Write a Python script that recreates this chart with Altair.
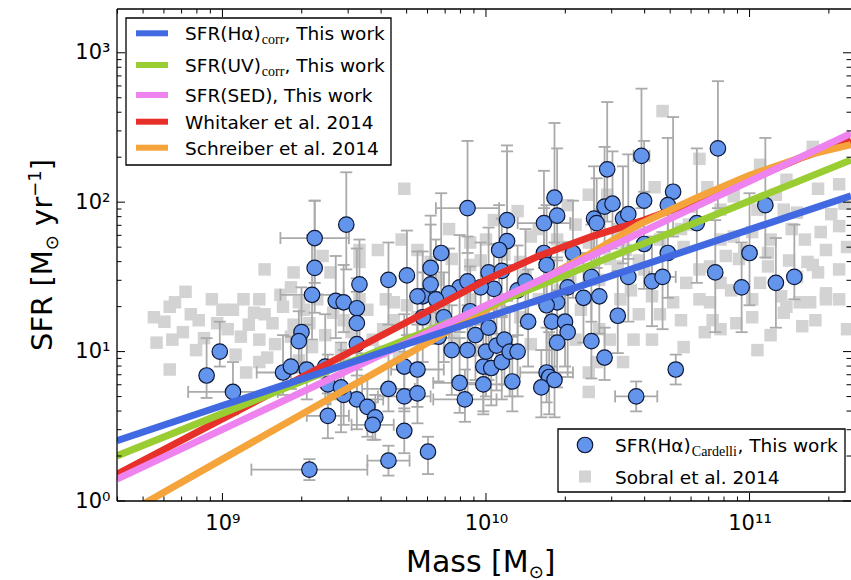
import altair as alt
import pandas as pd
import numpy as np

# ---------------- data (log10 values) ----------------
# SFR(Halpha)_Cardelli, This work  (circles)
bl_logm = [8.94, 8.99, 9.04, 9.33, 9.30, 9.29, 9.23, 9.26, 9.32, 9.39, 9.40, 9.40, 9.43, 9.46, 9.51, 9.51,
           9.51, 9.51, 9.55, 9.58, 9.57, 9.46, 9.45, 9.63, 9.63, 9.69, 9.69, 9.69, 9.74, 9.74, 9.78, 9.76,
           9.76, 9.34, 9.35, 9.47, 9.35, 9.52, 9.63, 9.70, 9.74, 9.93, 9.83, 9.79, 9.79, 10.08, 10.08, 10.05,
           10.22, 10.26, 10.27, 10.22, 10.23, 10.46, 10.59, 10.45, 10.48, 10.60, 10.41, 10.42, 10.52, 10.54,
           10.60, 10.01, 10.06, 10.03, 9.98, 9.90, 9.93, 9.86, 9.81, 10.12, 10.15, 10.33, 10.31, 10.37, 10.43,
           10.54, 10.63, 10.27, 10.23, 10.40, 10.88, 10.71, 10.69, 11.06, 10.80, 10.69, 11.00, 10.67, 10.87,
           10.97, 11.10, 11.17, 9.87, 9.93, 9.96, 10.01, 9.99, 10.00, 10.02, 10.04, 10.07, 10.06, 10.09, 10.12,
           9.90, 9.92, 9.99, 10.10, 10.16, 10.25, 10.30, 10.31, 10.27, 10.23, 10.24, 10.26, 10.21, 10.40, 10.45,
           10.50, 10.57, 9.82, 10.72, 9.84, 9.94]
bl_logs = [0.84, 1.00, 0.73, 0.21, 1.13, 1.07, 0.86, 0.90, 0.88, 0.90, 0.78, 0.57, 1.34, 1.33, 1.29, 1.19,
           1.05, 0.68, 0.63, 0.56, 0.51, 0.71, 0.76, 0.75, 0.27, 0.70, 0.47, 0.90, 0.72, 0.88, 0.33, 1.37,
           1.23, 1.38, 1.76, 1.85, 1.56, 1.45, 1.48, 1.51, 1.37, 1.96, 1.66, 1.56, 1.45, 1.88, 1.74, 1.68,
           1.86, 2.03, 1.91, 1.66, 1.58, 2.22, 2.31, 1.97, 1.99, 2.01, 1.89, 1.86, 1.89, 1.92,
           1.72, 1.53, 1.54, 1.42, 1.43, 1.43, 1.47, 1.39, 1.35, 1.41, 1.47, 1.66, 1.43, 1.36, 1.37,
           1.50, 1.47, 1.33, 1.31, 1.50, 2.36, 2.07, 1.98, 1.98, 1.86, 1.66, 1.66, 1.50, 1.53,
           1.43, 1.46, 1.50, 1.01, 1.01, 1.11, 1.16, 0.90, 1.00, 0.89, 1.04, 1.08, 0.93, 1.00, 1.00,
           0.79, 0.68, 0.78, 0.80, 1.20, 1.20, 1.20, 1.13, 1.06, 0.86, 0.83, 0.81, 0.76, 1.07, 0.96,
           1.24, 0.70, 1.10, 0.88, 1.23, 1.27]
# error bars in dex
bl_up = [0.25, 0.20, 0.20, 0.07, 0.30, 0.20, 0.25, 0.20, 0.30, 0.35, 0.20, 0.15, 0.30, 0.25, 0.40, 0.30,
         0.35, 0.20, 0.20, 0.15, 0.15, 0.30, 0.30, 0.25, 0.10, 0.30, 0.15, 0.35, 0.30, 0.30, 0.10, 0.30,
         0.30, 0.40, 0.25, 0.35, 0.45, 0.30, 0.25, 0.30, 0.30, 0.45, 0.40, 0.35, 0.40, 0.50, 0.60, 0.30,
         0.35, 0.50, 0.45, 0.30, 0.40, 0.45, 0.45, 0.40, 0.35, 0.40, 0.35, 0.30, 0.35, 0.40,
         0.35, 0.30, 0.35, 0.30, 0.30, 0.35, 0.30, 0.30, 0.40, 0.30, 0.35, 0.35, 0.30, 0.30, 0.30,
         0.35, 0.30, 0.30, 0.30, 0.35, 0.45, 0.50, 0.45, 0.45, 0.50, 0.35, 0.40, 0.30, 0.35,
         0.30, 0.30, 0.35, 0.30, 0.30, 0.35, 0.30, 0.30, 0.30, 0.30, 0.30, 0.30, 0.30, 0.30, 0.30,
         0.30, 0.20, 0.25, 0.30, 0.35, 0.35, 0.30, 0.35, 0.35, 0.30, 0.30, 0.30, 0.25, 0.30, 0.20,
         0.30, 0.10, 0.30, 0.10, 0.30, 0.30]
bl_dn = [0.15, 0.10, 0.15, 0.07, 0.20, 0.15, 0.15, 0.15, 0.20, 0.25, 0.20, 0.15, 0.25, 0.20, 0.30, 0.35,
         0.40, 0.20, 0.20, 0.15, 0.10, 0.20, 0.30, 0.15, 0.10, 0.20, 0.15, 0.30, 0.20, 0.25, 0.15, 0.30,
         0.30, 0.30, 0.30, 0.30, 0.30, 0.40, 0.30, 0.40, 0.30, 0.30, 0.30, 0.30, 0.35, 0.30, 0.40, 0.30,
         0.30, 0.30, 0.30, 0.30, 0.30, 0.35, 0.35, 0.30, 0.30, 0.30, 0.30, 0.30, 0.30, 0.30,
         0.30, 0.30, 0.30, 0.30, 0.25, 0.30, 0.30, 0.30, 0.30, 0.30, 0.30, 0.30, 0.30, 0.30, 0.25,
         0.30, 0.30, 0.30, 0.30, 0.30, 0.40, 0.30, 0.30, 0.35, 0.40, 0.30, 0.35, 0.35, 0.40,
         0.30, 0.30, 0.15, 0.30, 0.30, 0.30, 0.35, 0.30, 0.30, 0.25, 0.30, 0.30, 0.25, 0.30, 0.30,
         0.20, 0.15, 0.20, 0.20, 0.30, 0.30, 0.30, 0.30, 0.30, 0.20, 0.25, 0.25, 0.20, 0.25, 0.15,
         0.25, 0.10, 0.30, 0.10, 0.30, 0.30]
bl_xe = [0.00, 0.00, 0.17, 0.22, 0.00, 0.00, 0.10, 0.00, 0.08, 0.00, 0.00, 0.08, 0.00, 0.00, 0.00, 0.00,
         0.00, 0.10, 0.00, 0.00, 0.08, 0.00, 0.00, 0.10, 0.08, 0.10, 0.00, 0.00, 0.00, 0.10, 0.00, 0.00,
         0.00, 0.12, 0.13, 0.00, 0.00, 0.00, 0.00, 0.00, 0.00, 0.12, 0.00, 0.00, 0.00, 0.00, 0.00, 0.00,
         0.10, 0.00, 0.00, 0.00, 0.00, 0.00, 0.03, 0.00, 0.00, 0.00, 0.00, 0.00, 0.00, 0.00,
         0.00, 0.00, 0.00, 0.00, 0.00, 0.00, 0.00, 0.00, 0.00, 0.00, 0.00, 0.00, 0.00, 0.00, 0.00,
         0.00, 0.00, 0.00, 0.00, 0.00, 0.00, 0.00, 0.00, 0.00, 0.00, 0.00, 0.00, 0.05, 0.00,
         0.00, 0.00, 0.00, 0.00, 0.00, 0.00, 0.00, 0.00, 0.00, 0.00, 0.00, 0.00, 0.00, 0.00, 0.00,
         0.10, 0.12, 0.10, 0.00, 0.00, 0.00, 0.00, 0.00, 0.00, 0.10, 0.00, 0.00, 0.00, 0.00, 0.00,
         0.00, 0.08, 0.00, 0.00, 0.00, 0.00]

# Sobral et al. 2014 (squares)
sq_logm = [8.74, 8.80, 8.81, 8.80, 8.90, 8.86, 8.91, 8.96, 8.98, 9.04, 9.07, 9.12, 9.14, 9.09, 9.17, 9.19,
           9.23, 9.26, 9.29, 9.33, 9.34, 9.37, 9.42, 9.45, 9.49, 9.55, 9.61, 9.65, 9.67, 9.71, 9.74, 8.75,
           9.16, 9.26, 9.27, 9.52, 9.59, 9.69, 9.79, 8.82, 9.14, 9.52, 9.68, 9.38, 9.41,
           10.64, 10.46, 10.39, 10.31, 10.12, 10.03, 9.94, 10.17, 10.27, 10.31, 10.39, 10.50, 10.57, 10.00,
           9.87, 9.74, 10.13, 10.50, 10.60,
           10.67, 11.24, 11.14, 11.26, 11.34, 11.27, 11.34, 11.16, 11.29, 11.24, 11.37, 11.13, 11.18, 10.94,
           10.84, 10.89, 11.01, 11.07, 10.96, 10.85, 10.75, 10.78, 11.03, 10.94, 11.07, 10.91, 10.89, 11.04,
           11.01, 10.81, 10.76, 10.74, 10.89, 10.63, 10.71, 11.19, 11.34, 11.12, 11.29, 11.18, 11.26, 11.22,
           10.39, 10.39, 10.42, 10.52, 10.63, 10.75, 11.03, 10.83, 10.95, 11.20, 11.37, 11.29, 11.14, 11.01,
           10.86, 10.85, 11.23, 11.13,
           9.79, 9.84, 9.94, 10.05, 10.13, 10.20, 10.28, 10.36, 10.43, 10.51, 10.58, 9.88, 9.98, 10.17,
           10.34, 10.47, 10.56, 9.82, 9.94, 10.15, 10.24, 10.47, 10.55, 10.32, 10.43,
           8.78, 8.85, 8.88, 8.93, 9.00, 9.02, 9.08, 9.10, 9.16, 9.20, 9.22, 9.27, 9.31, 9.36, 9.39, 9.46,
           9.52, 9.57, 9.62, 9.65, 9.70, 9.75, 9.05, 9.14, 9.29, 9.46, 9.60,
           9.86, 9.98, 10.07, 10.20, 10.34, 10.43, 10.53, 10.66, 10.77, 10.81, 10.93, 10.98, 11.08, 11.15,
           11.21, 11.31, 11.36, 11.10, 11.04, 10.81, 10.89, 11.08, 11.25, 11.34, 10.74, 10.66, 10.58, 10.28,
           10.01, 9.92]
sq_logs = [1.23, 1.30, 1.08, 0.88, 1.01, 1.40, 1.21, 1.35, 1.19, 1.28, 1.10, 1.26, 1.08, 0.86, 0.96, 1.19,
           1.30, 1.10, 1.33, 1.19, 1.03, 0.86, 1.26, 1.01, 1.13, 1.28, 1.15, 1.33, 0.96, 1.08, 1.23, 1.06,
           1.55, 1.43, 1.53, 1.68, 1.68, 2.09, 1.60, 1.33, 1.35, 1.60, 1.75, 1.64, 1.53,
           2.10, 2.05, 2.05, 1.98, 1.94, 1.88, 1.73, 1.77, 1.75, 1.70, 1.73, 1.82, 1.84, 1.75,
           1.62, 1.68, 1.60, 1.57, 1.55,
           2.61, 2.37, 2.15, 2.09, 2.12, 1.80, 1.84, 1.82, 1.68, 1.58, 1.70, 1.95, 1.93, 2.04,
           2.10, 1.75, 1.80, 1.66, 1.62, 1.57, 1.70, 1.97, 1.95, 1.77, 1.57, 1.64, 1.46, 1.46,
           1.35, 1.55, 1.46, 1.82, 1.95, 1.37, 1.33, 1.33, 1.55, 1.37, 1.39, 1.50, 1.53, 1.60,
           0.86, 0.73, 0.93, 0.93, 1.08, 1.03, 1.01, 1.13, 1.19, 1.17, 1.15, 1.35, 1.30, 1.23,
           1.21, 1.33, 1.33, 1.26,
           1.21, 1.31, 1.35, 1.28, 1.23, 1.35, 1.41, 1.28, 1.15, 1.35, 1.25, 1.08, 1.01, 1.05,
           1.08, 1.08, 1.08, 1.48, 1.58, 1.51, 1.58, 1.62, 1.41, 1.48, 1.48,
           1.20, 1.13, 1.25, 1.09, 1.28, 1.15, 1.35, 1.18, 1.25, 1.05, 1.38, 1.18, 1.28, 1.35, 1.11, 1.21,
           1.35, 1.08, 1.35, 1.21, 1.31, 1.08, 0.98, 0.93, 0.94, 0.94, 1.00,
           1.82, 1.61, 1.65, 1.82, 1.85, 1.92, 1.68, 1.75, 1.85, 1.35, 1.41, 1.68, 1.75, 1.61,
           1.75, 1.92, 1.99, 2.05, 2.25, 2.29, 1.15, 1.11, 1.21, 1.35, 1.21, 1.25, 1.61, 1.21,
           1.15, 1.21]

# main-sequence fits (log M, log SFR)
ha_logm = [8.60, 11.385];  ha_logs = [0.403, 2.043]
uv_logm = [8.60, 11.385];  uv_logs = [0.302, 2.282]
sed_logm = [8.60, 11.385]; sed_logs = [0.146, 2.460]
wh_logm = [8.60, 9.00, 9.40, 9.80, 10.00, 10.20, 10.40, 10.60, 10.80, 11.00, 11.20, 11.385]
wh_logs = [0.18, 0.55, 0.92, 1.29, 1.48, 1.64, 1.77, 1.88, 2.01, 2.15, 2.30, 2.415]
sc_logm = [8.60, 9.00, 9.50, 10.00, 10.40, 10.58, 10.80, 11.00, 11.23, 11.385]
sc_logs = [-0.12, 0.28, 0.78, 1.28, 1.66, 1.85, 2.03, 2.18, 2.32, 2.385]

# axis ticks
x_major = [1e9, 1e10, 1e11]
x_minor = [4e8, 5e8, 6e8, 7e8, 8e8, 9e8, 2e9, 3e9, 4e9, 5e9, 6e9, 7e9, 8e9, 9e9,
           2e10, 3e10, 4e10, 5e10, 6e10, 7e10, 8e10, 9e10, 2e11]
y_major = [1, 10, 100, 1000]
y_minor = [2, 3, 4, 5, 6, 7, 8, 9, 20, 30, 40, 50, 60, 70, 80, 90,
           200, 300, 400, 500, 600, 700, 800, 900]

# ---------------- tables ----------------
W, H = 734, 492
blue = pd.DataFrame({"lm": bl_logm, "ls": bl_logs, "up": bl_up, "dn": bl_dn, "xe": bl_xe})
blue["mass"] = 10 ** blue.lm
blue["sfr"] = 10 ** blue.ls
blue["ylo"] = 10 ** (blue.ls - blue.dn)
blue["yhi"] = 10 ** (blue.ls + blue.up)
blue["xlo"] = 10 ** (blue.lm - blue.xe)
blue["xhi"] = 10 ** (blue.lm + blue.xe)
bluex = blue[blue.xe > 0]

sq = pd.DataFrame({"mass": 10 ** np.array(sq_logm), "sfr": 10 ** np.array(sq_logs)})

def fit_df(lm, ls):
    return pd.DataFrame({"mass": 10 ** np.array(lm), "sfr": 10 ** np.array(ls)})

xs = alt.Scale(type="log", domain=[10 ** 8.6, 10 ** 11.385], nice=False)
ys = alt.Scale(type="log", domain=[1, 10 ** 3.293], nice=False)
xaxis = alt.Axis(values=x_major, ticks=False, domain=False, grid=False, title=None,
                 labelExpr="datum.value < 5e9 ? '10⁹' : datum.value < 5e10 ? '10¹⁰' : '10¹¹'",
                 labelFont="DejaVu Sans", labelFontSize=21, labelColor="black",
                 labelPadding=11, labelOverlap=False, labelFlush=False)
yaxis = alt.Axis(values=y_major, ticks=False, domain=False, grid=False, title=None,
                 labelExpr="datum.value < 5 ? '10⁰' : datum.value < 50 ? '10¹' : datum.value < 500 ? '10²' : '10³'",
                 labelFont="DejaVu Sans", labelFontSize=21, labelColor="black",
                 labelPadding=7, labelOverlap=False, labelFlush=False)

def X(f):
    return alt.X(f, type="quantitative", scale=xs, axis=xaxis)

def Y(f):
    return alt.Y(f, type="quantitative", scale=ys, axis=yaxis)

one = pd.DataFrame({"k": [0]})
GREY = "#aaaaaa"

layers = []
layers.append(alt.Chart(sq).mark_square(size=156, color="#d3d3d3", opacity=1, clip=True)
              .encode(x=X("mass"), y=Y("sfr")))
# error bars
layers.append(alt.Chart(blue).mark_rule(color=GREY, strokeWidth=1.8, clip=True)
              .encode(x=X("mass"), y=Y("ylo"), y2="yhi"))
layers.append(alt.Chart(blue).mark_tick(orient="horizontal", size=12, thickness=1.8, color=GREY, opacity=1, clip=True)
              .encode(x=X("mass"), y=Y("ylo")))
layers.append(alt.Chart(blue).mark_tick(orient="horizontal", size=12, thickness=1.8, color=GREY, opacity=1, clip=True)
              .encode(x=X("mass"), y=Y("yhi")))
layers.append(alt.Chart(bluex).mark_rule(color=GREY, strokeWidth=1.8, clip=True)
              .encode(x=X("xlo"), x2="xhi", y=Y("sfr")))
layers.append(alt.Chart(bluex).mark_tick(orient="vertical", size=12, thickness=1.8, color=GREY, opacity=1, clip=True)
              .encode(x=X("xlo"), y=Y("sfr")))
layers.append(alt.Chart(bluex).mark_tick(orient="vertical", size=12, thickness=1.8, color=GREY, opacity=1, clip=True)
              .encode(x=X("xhi"), y=Y("sfr")))
# circles
layers.append(alt.Chart(blue).mark_circle(size=240, color="#6495ED", opacity=1, stroke="#0d1838", strokeWidth=1.2, clip=True)
              .encode(x=X("mass"), y=Y("sfr")))
# fit lines
for lm, ls, col in [(wh_logm, wh_logs, "#E8302A"), (sc_logm, sc_logs, "#F4A43A"),
                    (uv_logm, uv_logs, "#9ACD32"), (sed_logm, sed_logs, "#EE82EE"),
                    (ha_logm, ha_logs, "#4169E1")]:
    layers.append(alt.Chart(fit_df(lm, ls)).mark_line(color=col, strokeWidth=7, clip=True)
                  .encode(x=X("mass"), y=Y("sfr")))

# frame
layers.append(alt.Chart(one).mark_rule(color="black", strokeWidth=1.3)
              .encode(x=alt.value(0), y=alt.value(0), y2=alt.value(H)))
layers.append(alt.Chart(one).mark_rule(color="black", strokeWidth=1.3)
              .encode(x=alt.value(0), x2=alt.value(W), y=alt.value(H)))
layers.append(alt.Chart(one).mark_rule(color="black", strokeWidth=1.3)
              .encode(x=alt.value(0), x2=alt.value(W), y=alt.value(0)))

# inward ticks on all four sides
xt_major = pd.DataFrame({"v": x_major})
xt_minor = pd.DataFrame({"v": x_minor})
yt_major = pd.DataFrame({"v": y_major})
yt_minor = pd.DataFrame({"v": y_minor})
for df, ln in [(xt_major, 8), (xt_minor, 4.5)]:
    layers.append(alt.Chart(df).mark_rule(color="black", strokeWidth=1)
                  .encode(x=X("v"), y=alt.value(H), y2=alt.value(H - ln)))
    layers.append(alt.Chart(df).mark_rule(color="black", strokeWidth=1)
                  .encode(x=X("v"), y=alt.value(0), y2=alt.value(ln)))
for df, ln in [(yt_major, 8), (yt_minor, 4.5)]:
    layers.append(alt.Chart(df).mark_rule(color="black", strokeWidth=1)
                  .encode(y=Y("v"), x=alt.value(0), x2=alt.value(ln)))
    layers.append(alt.Chart(df).mark_rule(color="black", strokeWidth=1)
                  .encode(y=Y("v"), x=alt.value(W), x2=alt.value(W - ln)))

# legend boxes
layers.append(alt.Chart(one).mark_rect(fill="white", stroke="black", strokeWidth=1.3)
              .encode(x=alt.value(9), x2=alt.value(274), y=alt.value(9), y2=alt.value(156)))
layers.append(alt.Chart(one).mark_rect(fill="white", stroke="black", strokeWidth=1.3)
              .encode(x=alt.value(441), x2=alt.value(728), y=alt.value(420), y2=alt.value(483)))

# legend 1 swatches
for yy, col in [(24.3, "#4169E1"), (56, "#9ACD32"), (86, "#EE82EE"), (112.7, "#E8302A"), (138.7, "#F4A43A")]:
    layers.append(alt.Chart(one).mark_rule(color=col, strokeWidth=6)
                  .encode(x=alt.value(19), x2=alt.value(51), y=alt.value(yy)))
# legend 2 markers
layers.append(alt.Chart(one).mark_circle(size=240, color="#6495ED", opacity=1, stroke="#0d1838", strokeWidth=1.2)
              .encode(x=alt.value(468), y=alt.value(436)))
layers.append(alt.Chart(one).mark_square(size=144, color="#d3d3d3", opacity=1)
              .encode(x=alt.value(468), y=alt.value(467.5)))


def txt(s, x, y, size=18.5, font="DejaVu Sans", angle=0):
    kw = dict(text=s, align="left", baseline="alphabetic", font=font, fontSize=size, color="black")
    if angle:
        kw["angle"] = angle
    return alt.Chart(one).mark_text(**kw).encode(x=alt.value(x), y=alt.value(y))

SERIF = "Liberation Serif"
layers += [
    txt("SFR(Hα)", 68, 31.3), txt("corr", 144.8, 35.3, 14, SERIF), txt(", This work", 167.5, 31.3),
    txt("SFR(UV)", 68, 62.8), txt("corr", 144.8, 66.8, 14, SERIF), txt(", This work", 167.5, 62.8),
    txt("SFR(SED), This work", 68, 92.8),
    txt("Whitaker et al. 2014", 68, 119.5),
    txt("Schreiber et al. 2014", 68, 145.5),
    txt("SFR(Hα)", 498, 442.8), txt("Cardelli", 574.8, 446.8, 14, SERIF), txt(", This work", 620.5, 442.8),
    txt("Sobral et al. 2014", 498, 474.5),
    # x title
    txt("Mass [M", 289, 562.7, 30), txt("⊙", 411.7, 568.5, 18), txt("]", 426.8, 562.7, 30),
    # y title (rotated)
    txt("SFR [M", -65, 342, 29, angle=270), txt("⊙", -59, 241.2, 18, angle=270),
    txt("yr", -65, 216.9, 29, angle=270), txt("−1", -76, 187.8, 18, angle=270),
    txt("]", -65, 161.3, 29, angle=270),
]

chart = alt.layer(*layers).properties(
    width=W, height=H,
    padding={"left": 117, "top": 9, "right": 0, "bottom": 79},
    autosize=alt.AutoSizeParams(type="none"),
    background="white",
).configure_view(stroke=None)

chart.save("out.html", embed_options={"renderer": "svg", "actions": False})
